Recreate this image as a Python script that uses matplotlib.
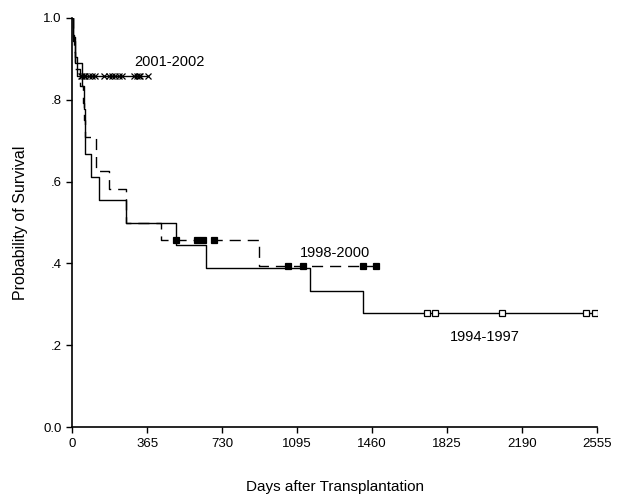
import numpy as np
import matplotlib
matplotlib.use("Agg")
import matplotlib.pyplot as plt

plt.rcParams["font.family"] = ["Liberation Sans", "DejaVu Sans"]

# 1994-1997: step times (days) and survival after each step
t_9497 = [0, 5, 15, 45, 58, 61, 63, 91, 130, 263, 506, 652, 1158, 1416]
s_9497 = [1.0, .944, .889, .833, .778, .722, .667, .611, .556, .5, .444, .389, .333, .278]
c_9497 = [1727, 1766, 2092, 2501, 2545]

# 1998-2000
t_9800 = [0, 3, 10, 15, 39, 50, 58, 63, 117, 177, 263, 433, 910]
s_9800 = [1.0, .958, .917, .875, .833, .792, .75, .708, .625, .583, .5, .458, .393]
c_9800 = [506, 608, 637, 691, 1051, 1124, 1416, 1479]

# 2001-2002
t_0102 = [0, 5, 12, 25]
s_0102 = [1.0, .952, .905, .857]
c_0102 = [42, 48, 55, 62, 79, 96, 112, 156, 177, 193, 209, 225, 242, 298,
          315, 323, 331, 371]

xticks = [0, 365, 730, 1095, 1460, 1825, 2190, 2555]
yticks = [0.0, 0.2, 0.4, 0.6, 0.8, 1.0]
ytick_labels = ["0.0", ".2", ".4", ".6", ".8", "1.0"]


def km_curve(ax, times, surv, cens, ls, marker, mfc, ms, dashes=None):
    end = max(max(times), max(cens))
    tt = list(times) + [end]
    ss = list(surv) + [surv[-1]]
    line, = ax.step(tt, ss, where="post", color="black", lw=1.0, ls=ls)
    if dashes is not None:
        line.set_dashes(dashes)
    idx = np.searchsorted(times, cens, side="right") - 1
    cy = np.array(surv)[idx]
    ax.plot(cens, cy, ls="none", marker=marker, ms=ms, mfc=mfc,
            mec="black", mew=0.9)


fig = plt.figure(figsize=(6.18, 4.95), dpi=100)
ax = fig.add_axes([0.117, 0.137, 0.849, 0.827])

km_curve(ax, t_9497, s_9497, c_9497, "-", "s", "white", 4.5)
km_curve(ax, t_9800, s_9800, c_9800, "--", "s", "black", 4, dashes=(8, 5))
km_curve(ax, t_0102, s_0102, c_0102, "-", "x", "black", 5)

ax.text(302, 0.892, "2001-2002", fontsize=10.5, ha="left", va="center")
ax.text(1109, 0.425, "1998-2000", fontsize=10.5, ha="left", va="center")
ax.text(1839, 0.22, "1994-1997", fontsize=10.5, ha="left", va="center")

ax.set_xlim(0, 2555)
ax.set_ylim(0, 1.0)
ax.set_xticks(xticks)
ax.set_yticks(yticks)
ax.set_yticklabels(ytick_labels)
ax.tick_params(direction="out", length=4, width=1, labelsize=9.5)
for side in ["top", "right"]:
    ax.spines[side].set_visible(False)
for side in ["left", "bottom"]:
    ax.spines[side].set_linewidth(1.2)

ax.set_xlabel("Days after Transplantation", fontsize=11, labelpad=22)
ax.set_ylabel("Probability of Survival", fontsize=11.5, labelpad=11)

fig.savefig("out.png", dpi=100)
